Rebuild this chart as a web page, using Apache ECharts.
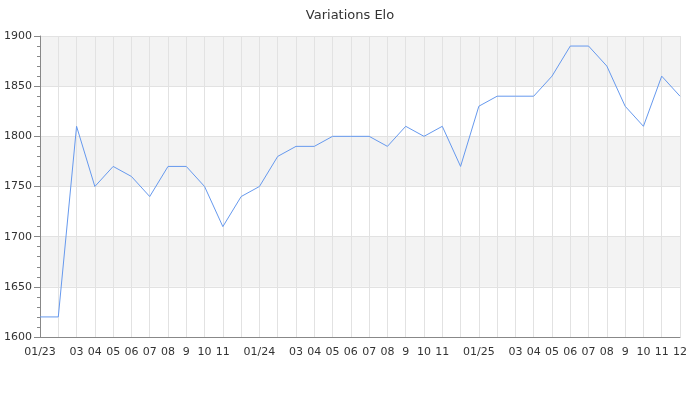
<!DOCTYPE html>
<html>
<head>
<meta charset="utf-8">
<script src="https://cdn.jsdelivr.net/npm/echarts@6/dist/echarts.min.js"></script>
<style>html,body{margin:0;padding:0;background:#fff}#c{width:700px;height:400px}</style>
</head>
<body>
<div id="c"></div>
<script>
var months = ["01/23","02/23","03/23","04/23","05/23","06/23","07/23","08/23","09/23","10/23","11/23","12/23",
              "01/24","02/24","03/24","04/24","05/24","06/24","07/24","08/24","09/24","10/24","11/24","12/24",
              "01/25","02/25","03/25","04/25","05/25","06/25","07/25","08/25","09/25","10/25","11/25","12/25"];
var tickLabels = ["01/23","","03","04","05","06","07","08","9","10","11","",
                  "01/24","","03","04","05","06","07","08","9","10","11","",
                  "01/25","","03","04","05","06","07","08","9","10","11","12"];
var elo = [1620,1620,1810,1750,1770,1760,1740,1770,1770,1750,1710,1740,
           1750,1780,1790,1790,1800,1800,1800,1790,1810,1800,1810,1770,
           1830,1840,1840,1840,1860,1890,1890,1870,1830,1810,1860,1840];

var chart = echarts.init(document.getElementById('c'), null, {renderer:'canvas'});
chart.setOption({
  animation:false,
  textStyle:{fontFamily:'DejaVu Sans'},
  title:{text:'Variations Elo', left:'center', top:4,
    textStyle:{fontSize:13, fontWeight:'normal', color:'#333', fontFamily:'DejaVu Sans'}},
  grid:{left:40, right:20, top:36, bottom:63, containLabel:false},
  xAxis:{
    type:'category', data:months, boundaryGap:false,
    axisLine:{lineStyle:{color:'#888'}},
    axisTick:{show:false},
    axisLabel:{interval:0, color:'#333', fontSize:11, margin:10,
      formatter:function(v,i){return tickLabels[i];}},
    splitLine:{show:true, lineStyle:{color:'#e2e2e2'}}
  },
  yAxis:{
    type:'value', min:1600, max:1900, interval:50,
    axisLine:{show:true, lineStyle:{color:'#888'}},
    axisTick:{show:true, length:6, lineStyle:{color:'#888'}},
    minorTick:{show:true, splitNumber:5, length:3, lineStyle:{color:'#888'}},
    axisLabel:{color:'#333', fontSize:11, margin:8, formatter:function(v){return String(v);}},
    splitLine:{show:true, lineStyle:{color:'#e2e2e2'}},
    splitArea:{show:true, areaStyle:{color:['#ffffff','#f3f3f3']}}
  },
  series:[{
    type:'line', data:elo, showSymbol:false, symbol:'none',
    lineStyle:{color:'#6699ee', width:1}
  }]
});
</script>
</body>
</html>
